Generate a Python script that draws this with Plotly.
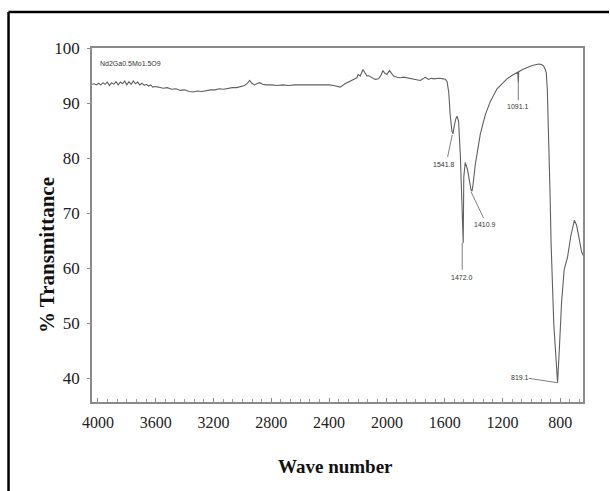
import plotly.graph_objects as go

# ---- data (wavenumber in cm-1, % transmittance) ----
wn_a = [4040, 4025, 4010, 3995, 3980, 3965, 3950, 3935, 3920, 3905, 3890, 3875, 3860, 3845, 3830,
        3815, 3800, 3785, 3770, 3755, 3740, 3725, 3710, 3695, 3680, 3665, 3650, 3635, 3620, 3605]
t_a = [93.4, 93.5, 93.3, 93.6, 93.3, 93.7, 93.4, 93.8, 93.2, 93.7, 93.4, 93.9, 93.3, 93.8, 93.5,
       94.0, 93.3, 93.9, 93.4, 94.0, 93.5, 93.8, 93.3, 93.6, 93.2, 93.4, 93.1, 93.3, 92.9, 93.0]

wn_b = [3580, 3550, 3520, 3490, 3460, 3430, 3400, 3370, 3341, 3310, 3280, 3250, 3220, 3190, 3160,
        3130, 3100, 3070, 3040, 3010, 2985, 2965, 2950, 2935, 2915, 2895, 2880, 2860, 2840]
t_b = [92.9, 92.7, 92.8, 92.5, 92.6, 92.3, 92.4, 92.1, 92.0, 92.2, 92.1, 92.3, 92.4, 92.4, 92.6,
       92.5, 92.7, 92.8, 92.8, 93.0, 93.2, 93.6, 94.1, 93.6, 93.3, 93.6, 93.7, 93.4, 93.3]

wn_c = [2800, 2760, 2720, 2680, 2640, 2600, 2560, 2520, 2480, 2440, 2400, 2370, 2323, 2290, 2254,
        2230, 2208, 2199, 2185, 2166, 2150, 2138, 2129, 2105, 2081, 2058, 2040, 2028, 2014, 2000,
        1982, 1968, 1954, 1930, 1908, 1885, 1861, 1840, 1816, 1790, 1769, 1750, 1735, 1712, 1695,
        1677, 1640, 1608, 1595, 1584]
t_c = [93.3, 93.2, 93.3, 93.2, 93.3, 93.3, 93.4, 93.3, 93.4, 93.4, 93.3, 93.2, 92.9, 93.5, 94.0,
       94.3, 94.6, 95.2, 94.9, 96.1, 95.3, 94.9, 95.0, 94.6, 94.3, 94.4, 95.1, 95.9, 95.4, 95.2,
       95.9, 95.4, 94.9, 94.7, 94.6, 94.7, 94.6, 94.5, 94.4, 94.2, 94.1, 94.4, 94.7, 94.3, 94.5,
       94.4, 94.5, 94.4, 94.3, 93.9]

wn_d = [1573, 1568, 1562, 1550, 1543, 1534, 1525, 1515, 1504, 1492, 1481, 1472, 1468, 1458, 1442,
        1428, 1418, 1411, 1404, 1388, 1354, 1319, 1284, 1238, 1200, 1169, 1130, 1100, 1094, 1091,
        1088, 1060, 1030, 1008, 980, 950, 930, 915, 904, 897]
t_d = [92.1, 90.4, 87.8, 84.9, 84.4, 85.8, 87.0, 87.6, 86.7, 80.6, 71.5, 64.6, 76.6, 79.2, 77.9,
       75.2, 74.2, 74.0, 75.2, 78.9, 84.3, 87.9, 90.3, 92.6, 93.6, 94.4, 95.1, 95.5, 95.6, 93.7,
       95.7, 96.1, 96.5, 96.7, 96.9, 97.1, 97.0, 96.7, 96.1, 95.5]

wn_e = [890, 880, 872, 864, 858, 855, 852, 845, 830, 819, 807, 791, 773, 750, 727,
        703, 687, 664, 652, 641, 636]
t_e = [92.4, 84.6, 74.6, 64.7, 58.2, 56.7, 55.2, 49.8, 42.8, 39.2, 45.2, 53.9, 59.8, 62.0, 65.9,
       68.7, 67.8, 64.1, 62.9, 62.3, 62.0]

wavenumber = wn_a + wn_b + wn_c + wn_d + wn_e
transmittance = t_a + t_b + t_c + t_d + t_e

x_tick_values = [4000, 3600, 3200, 2800, 2400, 2000, 1600, 1200, 800]
x_tick_labels = ["4000", "3600", "3200", "2800", "2400", "2000", "1600", "1200", "800"]
y_tick_values = [40, 50, 60, 70, 80, 90, 100]

peak_text = ["1541.8", "1472.0", "1410.9", "1091.1", "819.1"]
peak_label_x = [1608, 1479, 1319, 1092, 1077]
peak_label_y = [78.8, 58.4, 67.9, 89.3, 40.2]
leader_x0 = [1548, 1479, 1418, 1091, 819]
leader_y0 = [84.2, 64.6, 73.9, 93.7, 39.2]
leader_x1 = [1580, 1479, 1331, 1091, 1019]
leader_y1 = [80.2, 59.7, 69.1, 90.5, 40.0]

sample_name = "Nd2Ga0.5Mo1.5O9"

SERIF = "Liberation Serif, Times New Roman, serif"
SANS = "Liberation Sans, Arial, sans-serif"

fig = go.Figure()
fig.add_trace(go.Scatter(x=wavenumber, y=transmittance, mode="lines",
                         line=dict(color="#606060", width=1.1), hoverinfo="skip"))

for x0, y0, x1, y1 in zip(leader_x0, leader_y0, leader_x1, leader_y1):
    fig.add_shape(type="line", xref="x", yref="y", x0=x0, y0=y0, x1=x1, y1=y1,
                  line=dict(color="#707070", width=0.9))

for txt, lx, ly in zip(peak_text, peak_label_x, peak_label_y):
    fig.add_annotation(x=lx, y=ly, xref="x", yref="y", text=txt, showarrow=False,
                       font=dict(family=SANS, size=7, color="#333333"))

fig.add_annotation(x=3999, y=97.1, xref="x", yref="y", text=sample_name, showarrow=False,
                   xanchor="left", yanchor="middle", font=dict(family=SANS, size=7, color="#333333"))

# axis titles
fig.add_annotation(x=-0.0916, y=0.415, xref="paper", yref="paper", text="<b>% Transmittance</b>",
                   textangle=-90, showarrow=False, xanchor="center", yanchor="middle",
                   font=dict(family=SERIF, size=21, color="#111111"))
fig.add_annotation(x=0.495, y=-0.181, xref="paper", yref="paper", text="<b>Wave number</b>",
                   showarrow=False, xanchor="center", yanchor="middle",
                   font=dict(family=SERIF, size=19, color="#111111"))

# outer black frame (left and top edges visible in the crop)
fig.add_shape(type="line", xref="paper", yref="paper", x0=-0.170, x1=-0.170, y0=-0.30, y1=1.1017,
              line=dict(color="black", width=2.5))
fig.add_shape(type="line", xref="paper", yref="paper", x0=-0.170, x1=1.053, y0=1.1017, y1=1.1017,
              line=dict(color="black", width=2.5))

fig.update_layout(
    width=610, height=491,
    margin=dict(l=92, r=27, t=48, b=89),
    paper_bgcolor="white", plot_bgcolor="white",
    showlegend=False,
    xaxis=dict(range=[4041, 643], tickvals=x_tick_values, ticktext=x_tick_labels,
               showgrid=False, zeroline=False, showline=True, mirror=True,
               linecolor="#8a8a8a", linewidth=1.5,
               ticks="inside", ticklen=4, tickcolor="#8a8a8a", ticklabelstandoff=5,
               minor=dict(ticks="inside", ticklen=3, tickcolor="#9a9a9a", dtick=400 / 6, tick0=4000),
               tickfont=dict(family=SERIF, size=16, color="#222222")),
    yaxis=dict(range=[35.7, 100.0], tickvals=y_tick_values,
               showgrid=False, zeroline=False, showline=True, mirror=True,
               linecolor="#8a8a8a", linewidth=1.5,
               ticks="outside", ticklen=3, tickcolor="#8a8a8a", ticklabelstandoff=4,
               tickfont=dict(family=SERIF, size=17, color="#222222")),
)

fig.write_html("out.html", config={"displayModeBar": False},
               post_script="document.body.style.margin='0';document.body.style.overflow='hidden';")
